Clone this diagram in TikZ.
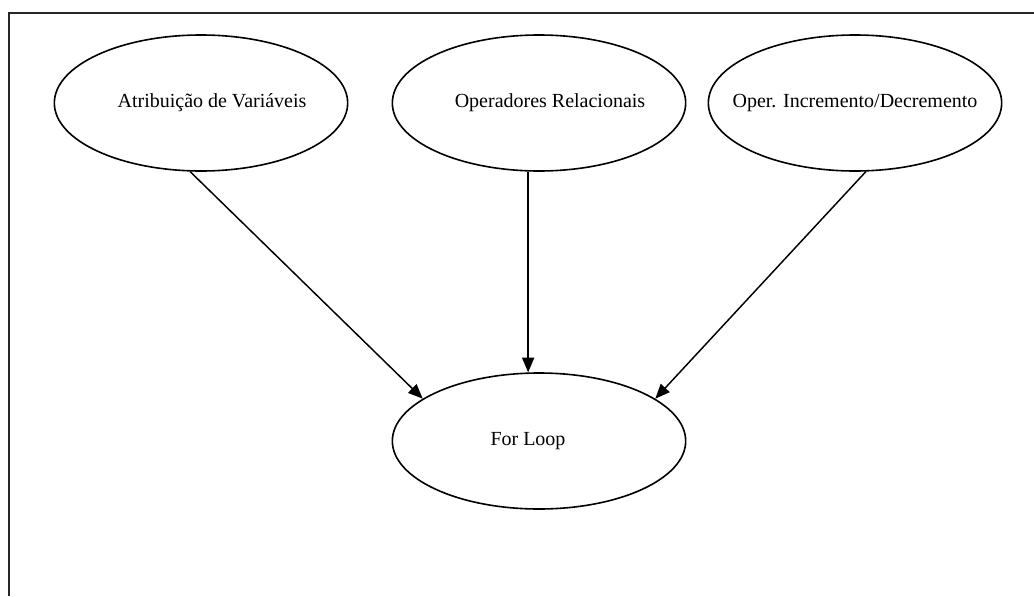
\documentclass[tikz,border=0pt]{standalone}
\usepackage{fontspec}
\setmainfont{Liberation Serif}
\usetikzlibrary{arrows.meta,shapes,positioning}

\begin{document}
\begin{tikzpicture}[x=0.75pt,y=-0.75pt,
	bubble/.style={draw,ellipse,line width=1.2pt,minimum width=220pt,minimum height=102pt,inner sep=0pt,font=\fontsize{15}{18}\selectfont},
	feed/.style={-{Triangle[length=11pt,width=9pt]},line width=1.1pt}]
	\useasboundingbox (0,0) rectangle (1034,596);
	\coordinate (frametop)		at	(1034,13);
	\coordinate (framecorner)	at	(9,13);
	\coordinate (framebottom)	at	(9,596);
	\draw[line width=2pt,black!85] (frametop) -- (framecorner) -- (framebottom);
		\node[bubble] (attrib)		at	(201,103)	{\makebox[0pt]{\hspace*{16.5pt}Atribuição de Variáveis}};
		\node[bubble] (relop)		at	(539,103)	{\makebox[0pt]{\hspace*{16.5pt}Operadores Relacionais}};
		\node[bubble] (incdec)		at	(855,103)	{\makebox[0pt]{Oper. Incremento/Decremento}};
		\node[bubble] (forloop)		at	(539,441)	{\makebox[0pt]{For Loop\hspace*{16.5pt}}};
		\draw[feed] (attrib.-99) -- (forloop.160);
		\draw[feed] (relop.-99) -- (forloop.99);
		\draw[feed] (incdec.-81) -- (forloop.20);
\end{tikzpicture}
\end{document}
